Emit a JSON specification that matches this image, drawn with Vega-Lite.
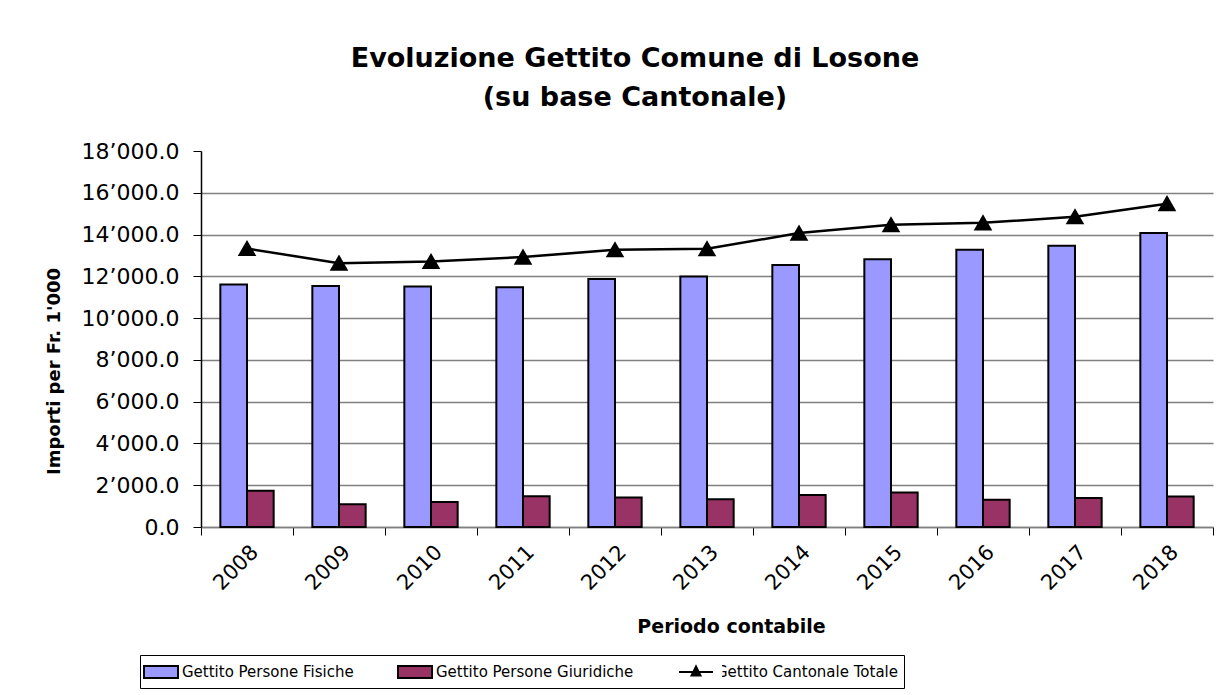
{
  "$schema": "https://vega.github.io/schema/vega-lite/v6.json",
  "width": 1012,
  "height": 376,
  "autosize": {"type": "none"},
  "padding": {"left": 201, "top": 151, "right": 18, "bottom": 168},
  "background": "white",
  "config": {"font": "DejaVu Sans", "view": {"stroke": null}},
  "title": {
    "text": ["Evoluzione Gettito Comune di Losone", "(su base Cantonale)"],
    "fontSize": 27,
    "fontWeight": "bold",
    "color": "black",
    "anchor": "middle",
    "dx": -72,
    "offset": 28,
    "lineHeight": 39
  },
  "datasets": {
    "bars": [
      {"anno": "2008", "serie": "Gettito Persone Fisiche", "valore": 11610},
      {"anno": "2009", "serie": "Gettito Persone Fisiche", "valore": 11540},
      {"anno": "2010", "serie": "Gettito Persone Fisiche", "valore": 11510},
      {"anno": "2011", "serie": "Gettito Persone Fisiche", "valore": 11480},
      {"anno": "2012", "serie": "Gettito Persone Fisiche", "valore": 11870},
      {"anno": "2013", "serie": "Gettito Persone Fisiche", "valore": 11990},
      {"anno": "2014", "serie": "Gettito Persone Fisiche", "valore": 12540},
      {"anno": "2015", "serie": "Gettito Persone Fisiche", "valore": 12820},
      {"anno": "2016", "serie": "Gettito Persone Fisiche", "valore": 13270},
      {"anno": "2017", "serie": "Gettito Persone Fisiche", "valore": 13460},
      {"anno": "2018", "serie": "Gettito Persone Fisiche", "valore": 14070},
      {"anno": "2008", "serie": "Gettito Persone Giuridiche", "valore": 1730},
      {"anno": "2009", "serie": "Gettito Persone Giuridiche", "valore": 1090},
      {"anno": "2010", "serie": "Gettito Persone Giuridiche", "valore": 1200},
      {"anno": "2011", "serie": "Gettito Persone Giuridiche", "valore": 1470},
      {"anno": "2012", "serie": "Gettito Persone Giuridiche", "valore": 1410},
      {"anno": "2013", "serie": "Gettito Persone Giuridiche", "valore": 1330},
      {"anno": "2014", "serie": "Gettito Persone Giuridiche", "valore": 1530},
      {"anno": "2015", "serie": "Gettito Persone Giuridiche", "valore": 1650},
      {"anno": "2016", "serie": "Gettito Persone Giuridiche", "valore": 1300},
      {"anno": "2017", "serie": "Gettito Persone Giuridiche", "valore": 1390},
      {"anno": "2018", "serie": "Gettito Persone Giuridiche", "valore": 1460}
    ],
    "totale": [
      {"anno": "2008", "valore": 13330},
      {"anno": "2009", "valore": 12630},
      {"anno": "2010", "valore": 12710},
      {"anno": "2011", "valore": 12920},
      {"anno": "2012", "valore": 13270},
      {"anno": "2013", "valore": 13320},
      {"anno": "2014", "valore": 14070},
      {"anno": "2015", "valore": 14470},
      {"anno": "2016", "valore": 14560},
      {"anno": "2017", "valore": 14850},
      {"anno": "2018", "valore": 15480}
    ]
  },
  "layer": [
    {
      "data": {"name": "bars"},
      "mark": {"type": "bar", "stroke": "black", "strokeWidth": 2},
      "encoding": {
        "x": {
          "field": "anno",
          "type": "nominal",
          "scale": {"paddingInner": 0, "paddingOuter": 0},
          "axis": {
            "title": "Periodo contabile",
            "titleFontSize": 19,
            "titleFontWeight": "bold",
            "titleColor": "black",
            "titleX": 530,
            "titleY": 90,
            "labelAngle": -45,
            "labelFontSize": 21,
            "labelColor": "black",
            "labelPadding": 6,
            "tickBand": "extent",
            "tickSize": 8,
            "tickColor": "black",
            "domainColor": "#808080",
            "domainWidth": 1.5,
            "grid": false
          }
        },
        "xOffset": {
          "field": "serie",
          "type": "nominal",
          "sort": ["Gettito Persone Fisiche", "Gettito Persone Giuridiche"],
          "scale": {"paddingInner": 0, "paddingOuter": 0.725}
        },
        "y": {
          "field": "valore",
          "type": "quantitative",
          "scale": {"domain": [0, 18000]},
          "axis": {
            "title": "Importi per Fr. 1'000",
            "titleFontSize": 18,
            "titleFontWeight": "bold",
            "titleColor": "black",
            "titleX": -138,
            "titleY": 220,
            "values": [0, 2000, 4000, 6000, 8000, 10000, 12000, 14000, 16000, 18000],
            "labelExpr": "replace(format(datum.value, ',.1f'), ',', '’')",
            "labelFontSize": 22,
            "labelColor": "black",
            "labelPadding": 14,
            "tickSize": 8,
            "tickColor": "black",
            "domainColor": "black",
            "domainWidth": 1.5,
            "grid": true,
            "gridColor": "#808080",
            "gridWidth": 1.5,
            "gridOpacity": {"condition": {"test": "datum.value >= 18000", "value": 0}, "value": 1}
          }
        },
        "color": {
          "field": "serie",
          "type": "nominal",
          "scale": {
            "domain": ["Gettito Persone Fisiche", "Gettito Persone Giuridiche", "Gettito Cantonale Totale"],
            "range": ["#9999FF", "#993366", "transparent"]
          },
          "legend": {
            "title": null,
            "orient": "none",
            "legendX": -61,
            "legendY": 504,
            "direction": "horizontal",
            "columns": 3,
            "columnPadding": 40,
            "strokeColor": "black",
            "padding": 6,
            "labelFontSize": 15,
            "labelColor": "black",
            "labelLimit": 800,
            "symbolType": "M-1.7,-0.6H1.7V0.6H-1.7Z",
            "symbolSize": 400,
            "symbolStrokeColor": "black",
            "symbolStrokeWidth": 2,
            "symbolOpacity": 1,
            "symbolOffset": 4,
            "labelOffset": 10
          }
        }
      }
    },
    {
      "data": {"name": "totale"},
      "mark": {
        "type": "line",
        "strokeWidth": 2.5,
        "point": {"shape": "triangle-up", "size": 230, "filled": true, "fill": "black", "opacity": 1}
      },
      "encoding": {
        "x": {"field": "anno", "type": "nominal"},
        "y": {"field": "valore", "type": "quantitative"},
        "stroke": {
          "datum": "Gettito Cantonale Totale",
          "scale": {"range": ["black"]},
          "legend": {
            "title": null,
            "orient": "none",
            "legendX": 471,
            "legendY": 505,
            "padding": 5,
            "fillColor": "white",
            "labelFontSize": 15,
            "labelColor": "black",
            "labelExpr": "''",
            "labelOffset": 3,
            "symbolType": "M-1.7,0H1.7M0,-0.55L0.45,0.35L-0.45,0.35Z",
            "symbolSize": 400,
            "symbolStrokeColor": "black",
            "symbolFillColor": "black",
            "symbolStrokeWidth": 2,
            "symbolOpacity": 1,
            "symbolOffset": 8
          }
        }
      }
    }
  ]
}
